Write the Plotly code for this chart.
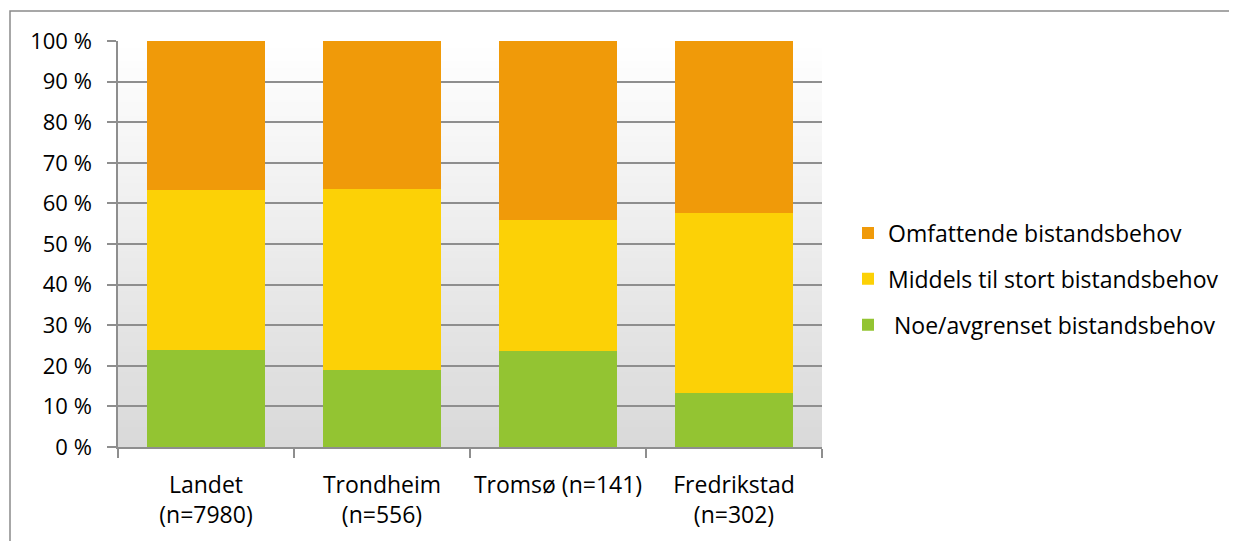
import plotly.graph_objects as go

categories = ["Landet<br>(n=7980)", "Trondheim<br>(n=556)", "Tromsø (n=141)", "Fredrikstad<br>(n=302)"]
noe = [23.8, 19.0, 23.6, 13.2]
middels = [39.5, 44.5, 32.3, 44.5]
omfattende = [36.7, 36.5, 44.1, 42.3]

series_names = [" Noe/avgrenset bistandsbehov", "Middels til stort bistandsbehov", "Omfattende bistandsbehov"]
series_colors = ["#93C432", "#FCD106", "#F09A09"]

ytick_vals = list(range(0, 101, 10))
ytick_text = [f"{v} %" for v in ytick_vals]

FONT = "Open Sans, Carlito, Calibri, sans-serif"
FS = 23

fig = go.Figure()
for name, vals, col, rank in zip(series_names, [noe, middels, omfattende], series_colors, [3, 2, 1]):
    fig.add_trace(go.Bar(x=categories, y=vals, name=name, marker=dict(color=col, line=dict(width=0)),
                         legendgroup=f"g{rank}", legendrank=rank))

# page body offset (8px) compensated: figure coordinates
OFF = 8
FW, FH = 1237 - OFF, 541 - OFF
L, R, T, B = 118 - OFF, 822 - OFF, 41 - OFF, 447 - OFF
W, H = R - L, B - T

# gradient background of plot area
shapes = []
N = 60
for i in range(N):
    t = i / (N - 1)
    v = int(round(217 + (255 - 217) * t))
    shapes.append(dict(type="rect", xref="x domain", yref="y domain", x0=0, x1=1,
                       y0=i / N, y1=(i + 1) / N + 0.002, fillcolor=f"rgb({v},{v},{v})",
                       line=dict(width=0), layer="below"))
# outer chart border
shapes.append(dict(type="rect", xref="paper", yref="paper",
                   x0=(10 - OFF - L) / W, x1=(1300 - L) / W, y0=(B - 600) / H, y1=(B - (11 - OFF)) / H,
                   line=dict(color="#8A8A8A", width=1.5), fillcolor="rgba(0,0,0,0)", layer="above"))

fig.update_layout(
    width=FW, height=FH,
    margin=dict(l=L, r=FW - R, t=T, b=FH - B, autoexpand=False),
    barmode="stack", bargap=0.335,
    paper_bgcolor="white", plot_bgcolor="rgba(0,0,0,0)",
    font=dict(family=FONT, size=FS, color="#000000"),
    shapes=shapes,
    legend=dict(x=(848 - OFF - L) / W, xanchor="left", y=(B - (279 - OFF)) / H, yanchor="middle",
                traceorder="grouped", tracegroupgap=13,
                font=dict(family=FONT, size=FS), bgcolor="rgba(0,0,0,0)"),
    showlegend=True,
)
fig.update_yaxes(range=[0, 100], tickvals=ytick_vals, ticktext=ytick_text,
                 tickfont=dict(size=22), automargin=False,
                 showgrid=True, gridcolor="#8E8E8E", gridwidth=1.5,
                 showline=True, linecolor="#8E8E8E", linewidth=1.5,
                 ticks="outside", ticklen=9, tickcolor="#8E8E8E", tickwidth=1.5,
                 ticklabelstandoff=11, zeroline=False, fixedrange=True)
fig.update_xaxes(range=[-0.5, 3.5], showline=True, linecolor="#8E8E8E", linewidth=1.5,
                 tickangle=0, automargin=False,
                 ticks="outside", tickson="boundaries", ticklen=9, tickcolor="#8E8E8E", tickwidth=1.5,
                 ticklabelstandoff=17, showgrid=False, fixedrange=True)

fig.write_html("out.html")
